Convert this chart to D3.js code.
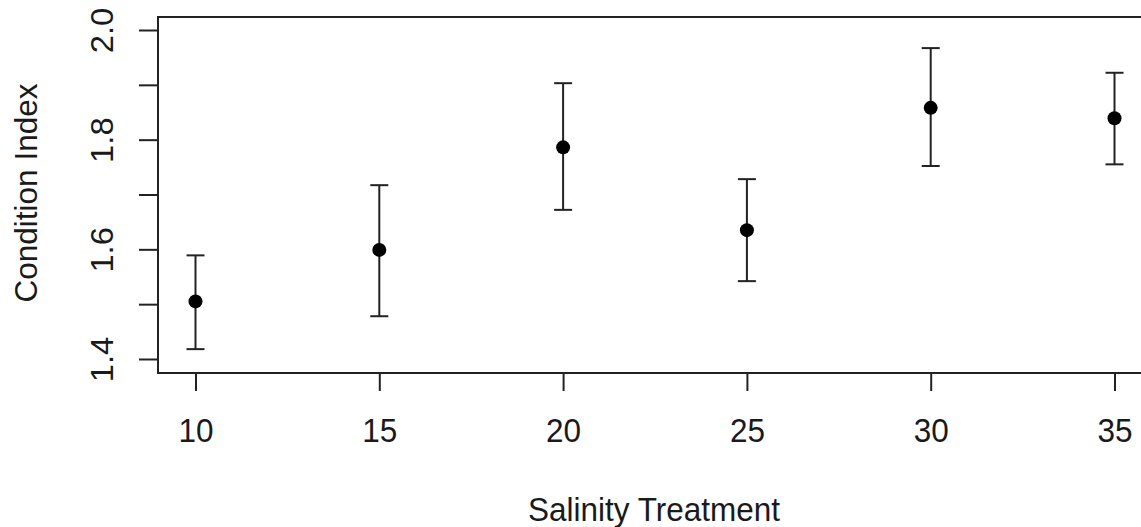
<!DOCTYPE html>
<html>
<head>
<meta charset="utf-8">
<script src="https://cdn.jsdelivr.net/npm/d3@7"></script>
<style>
  html, body { margin: 0; padding: 0; background: #fff; overflow: hidden; }
  svg { display: block; }
  text { font-family: "Liberation Sans", Arial, sans-serif; fill: #1a1a1a; }
</style>
</head>
<body>
<svg id="chart" width="1141" height="527"></svg>
<script>
// Data
const salinity = [10, 15, 20, 25, 30, 35];
const meanCI   = [1.505, 1.599, 1.786, 1.635, 1.858, 1.839];
const upperCI  = [1.589, 1.717, 1.903, 1.728, 1.967, 1.922];
const lowerCI  = [1.418, 1.478, 1.672, 1.542, 1.752, 1.755];
const yTicks = [1.4, 1.5, 1.6, 1.7, 1.8, 1.9, 2.0];
const yTickLabels = ["1.4", "", "1.6", "", "1.8", "", "2.0"];
const xTicks = [10, 15, 20, 25, 30, 35];
const xTitle = "Salinity Treatment";
const yTitle = "Condition Index";

const svg = d3.select("#chart");
const pLeft = 158, pRight = 1152, pTop = 17, pBottom = 373;
const lineColor = "#222";
const fontSize = 31.5;
const font = "Liberation Sans, Arial, sans-serif";

const x = d3.scaleLinear().domain([8.98, 36.02]).range([pLeft, pRight]);
const y = d3.scaleLinear().domain([1.4, 2.0]).range([359, 30]);

// Plot box
svg.append("rect")
  .attr("x", pLeft).attr("y", pTop)
  .attr("width", pRight - pLeft).attr("height", pBottom - pTop)
  .attr("fill", "none").attr("stroke", lineColor).attr("stroke-width", 2);

// X axis
const xAxis = d3.axisBottom(x).tickValues(xTicks).tickSize(18)
  .tickFormat(d3.format("d"));
const gx = svg.append("g").attr("transform", `translate(0,${pBottom})`).call(xAxis);
gx.select(".domain").remove();
gx.selectAll(".tick line").attr("stroke", lineColor).attr("stroke-width", 2);
gx.selectAll(".tick text").attr("font-size", fontSize).attr("fill", "#1a1a1a")
  .attr("font-family", font)
  .attr("y", 0).attr("dy", null)
  .attr("transform", "translate(0,69) scale(1,1.07)");

// Y axis
const yAxis = d3.axisLeft(y).tickValues(yTicks).tickSize(19)
  .tickFormat((d, i) => yTickLabels[i]);
const gy = svg.append("g").attr("transform", `translate(${pLeft},0)`).call(yAxis);
gy.select(".domain").remove();
gy.selectAll(".tick line").attr("stroke", lineColor).attr("stroke-width", 2);
gy.selectAll(".tick text")
  .attr("font-size", fontSize).attr("fill", "#1a1a1a")
  .attr("font-family", font)
  .attr("x", null).attr("dy", null)
  .attr("text-anchor", "middle")
  .attr("transform", "translate(-45,0) rotate(-90) scale(1.04,1)");

// Titles
svg.append("text")
  .attr("transform", `translate(${(pLeft + pRight) / 2 - 1},521) scale(1,1.07)`)
  .attr("text-anchor", "middle").attr("font-size", fontSize)
  .text(xTitle);
svg.append("text")
  .attr("transform", `translate(37,${(pTop + pBottom) / 2 - 2}) rotate(-90)`)
  .attr("text-anchor", "middle").attr("font-size", fontSize)
  .text(yTitle);

// Error bars
const data = salinity.map((s, i) => ({ s, m: meanCI[i], u: upperCI[i], l: lowerCI[i] }));
const g = svg.append("g");
const capW = 9;
g.selectAll("line.bar").data(data).join("line").attr("class", "bar")
  .attr("x1", d => x(d.s)).attr("x2", d => x(d.s))
  .attr("y1", d => y(d.u)).attr("y2", d => y(d.l))
  .attr("stroke", lineColor).attr("stroke-width", 2);
g.selectAll("line.capU").data(data).join("line").attr("class", "capU")
  .attr("x1", d => x(d.s) - capW).attr("x2", d => x(d.s) + capW)
  .attr("y1", d => y(d.u)).attr("y2", d => y(d.u))
  .attr("stroke", lineColor).attr("stroke-width", 2);
g.selectAll("line.capL").data(data).join("line").attr("class", "capL")
  .attr("x1", d => x(d.s) - capW).attr("x2", d => x(d.s) + capW)
  .attr("y1", d => y(d.l)).attr("y2", d => y(d.l))
  .attr("stroke", lineColor).attr("stroke-width", 2);
g.selectAll("circle").data(data).join("circle")
  .attr("cx", d => x(d.s)).attr("cy", d => y(d.m)).attr("r", 7)
  .attr("fill", "#000");
</script>
</body>
</html>
